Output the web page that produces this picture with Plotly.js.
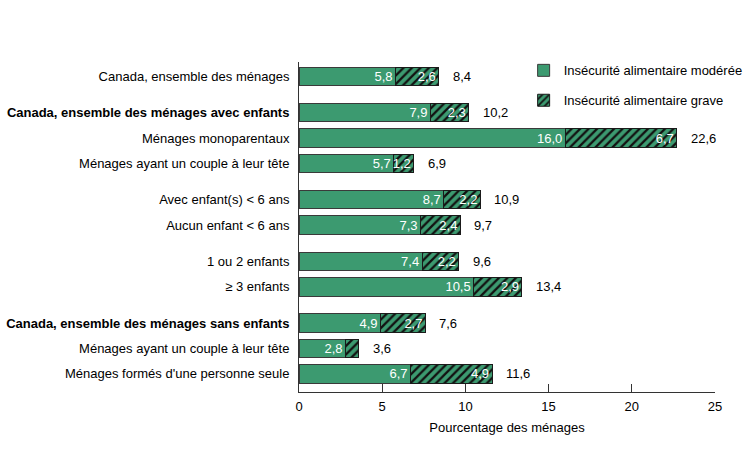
<!DOCTYPE html>
<html>
<head>
<meta charset="utf-8">
<script src="https://cdn.plot.ly/plotly-3.0.1.min.js"></script>
<style>html,body{margin:0;padding:0;background:#fff;}#chart{width:750px;height:450px;}</style>
</head>
<body>
<div id="chart"></div>
<script>
// ---- data ----
const categories = [
  "Canada, ensemble des ménages",
  "<b>Canada, ensemble des ménages avec enfants</b>",
  "Ménages monoparentaux",
  "Ménages ayant un couple à leur tête",
  "Avec enfant(s) < 6 ans",
  "Aucun enfant < 6 ans",
  "1 ou 2 enfants",
  "≥ 3 enfants",
  "<b>Canada, ensemble des ménages sans enfants</b>",
  "Ménages ayant un couple à leur tête",
  "Ménages formés d'une personne seule"
];
const groups   = [0, 1, 1, 1, 2, 2, 3, 3, 4, 4, 4];
const moderate = [5.8, 7.9, 16.0, 5.7, 8.7, 7.3, 7.4, 10.5, 4.9, 2.8, 6.7];
const severe   = [2.6, 2.3, 6.7, 1.2, 2.2, 2.4, 2.2, 2.9, 2.7, 0.8, 4.9];
const totals   = [8.4, 10.2, 22.6, 6.9, 10.9, 9.7, 9.6, 13.4, 7.6, 3.6, 11.6];
const severeShown = [true, true, true, true, true, true, true, true, true, false, true];
const seriesNames = ["Insécurité alimentaire modérée", "Insécurité alimentaire grave"];
const xTicks = [0, 5, 10, 15, 20, 25];
const xTitle = "Pourcentage des ménages";

// ---- layout helpers ----
const GAP = 0.44;
const ypos = categories.map((c, i) => i + groups[i] * GAP);
const fmt = v => v.toFixed(1).replace(".", ",");
const GREEN = "#3c9a70";
const FONT = "Liberation Sans, Arial, Helvetica, sans-serif";
const FS = 13;

const traces = [
  {
    type: "bar", orientation: "h", name: seriesNames[0],
    y: ypos, x: moderate,
    width: 0.73,
    text: moderate.map(fmt),
    textposition: "inside", insidetextanchor: "end",
    textfont: {color: "#ffffff", size: FS, family: FONT},
    marker: {color: GREEN, line: {color: "#3a3a3a", width: 1}},
    legendgroup: "a", hoverinfo: "skip"
  },
  {
    type: "bar", orientation: "h", name: seriesNames[1],
    y: ypos, x: severe,
    width: 0.73,
    text: severe.map((v, i) => severeShown[i] ? fmt(v) : ""),
    textposition: "inside", insidetextanchor: "end",
    textfont: {color: "#ffffff", size: FS, family: FONT},
    marker: {color: GREEN, line: {color: "#1a1a1a", width: 1},
             pattern: {shape: "/", fgcolor: "#111111", bgcolor: GREEN, size: 6, solidity: 0.38}},
    legendgroup: "b", hoverinfo: "skip"
  }
];

const annotations = totals.map((t, i) => ({
  x: moderate[i] + severe[i], y: ypos[i], xref: "x", yref: "y",
  text: fmt(t), showarrow: false, xanchor: "left", xshift: 12,
  font: {size: FS, color: "#000", family: FONT}
}));

const layout = {
  width: 750, height: 450,
  margin: {l: 299, r: 35, t: 62, b: 58, autoexpand: false},
  paper_bgcolor: "#fff", plot_bgcolor: "#fff",
  font: {family: FONT, size: FS, color: "#000"},
  barmode: "stack",
  uniformtext: {mode: "show", minsize: FS},
  showlegend: true,
  legend: {
    x: 0.54, y: 1.02, xanchor: "left", yanchor: "top",
    traceorder: "grouped", tracegroupgap: 10,
    font: {size: FS, family: FONT, color: "#000"},
    bgcolor: "rgba(0,0,0,0)"
  },
  xaxis: {
    range: [0, 25], tickvals: xTicks, ticktext: xTicks.map(String),
    ticks: "inside", ticklen: 8, tickcolor: "#333", tickwidth: 1,
    showline: true, linecolor: "#333", linewidth: 1,
    showgrid: false, zeroline: false, ticklabelstandoff: 2,
    tickfont: {size: FS, family: FONT, color: "#000"},
    title: {text: xTitle, standoff: 10, font: {size: FS, family: FONT}},
    automargin: false,
    fixedrange: true
  },
  yaxis: {
    range: [12.48, -0.565], tickvals: ypos, ticktext: categories,
    ticks: "", showline: true, linecolor: "#333", linewidth: 1,
    showgrid: false, zeroline: false, ticklabelstandoff: 6,
    tickfont: {size: FS, family: FONT, color: "#000"},
    automargin: false,
    fixedrange: true
  },
  annotations: annotations
};

Plotly.newPlot("chart", traces, layout, {displayModeBar: false, staticPlot: true});
</script>
</body>
</html>
